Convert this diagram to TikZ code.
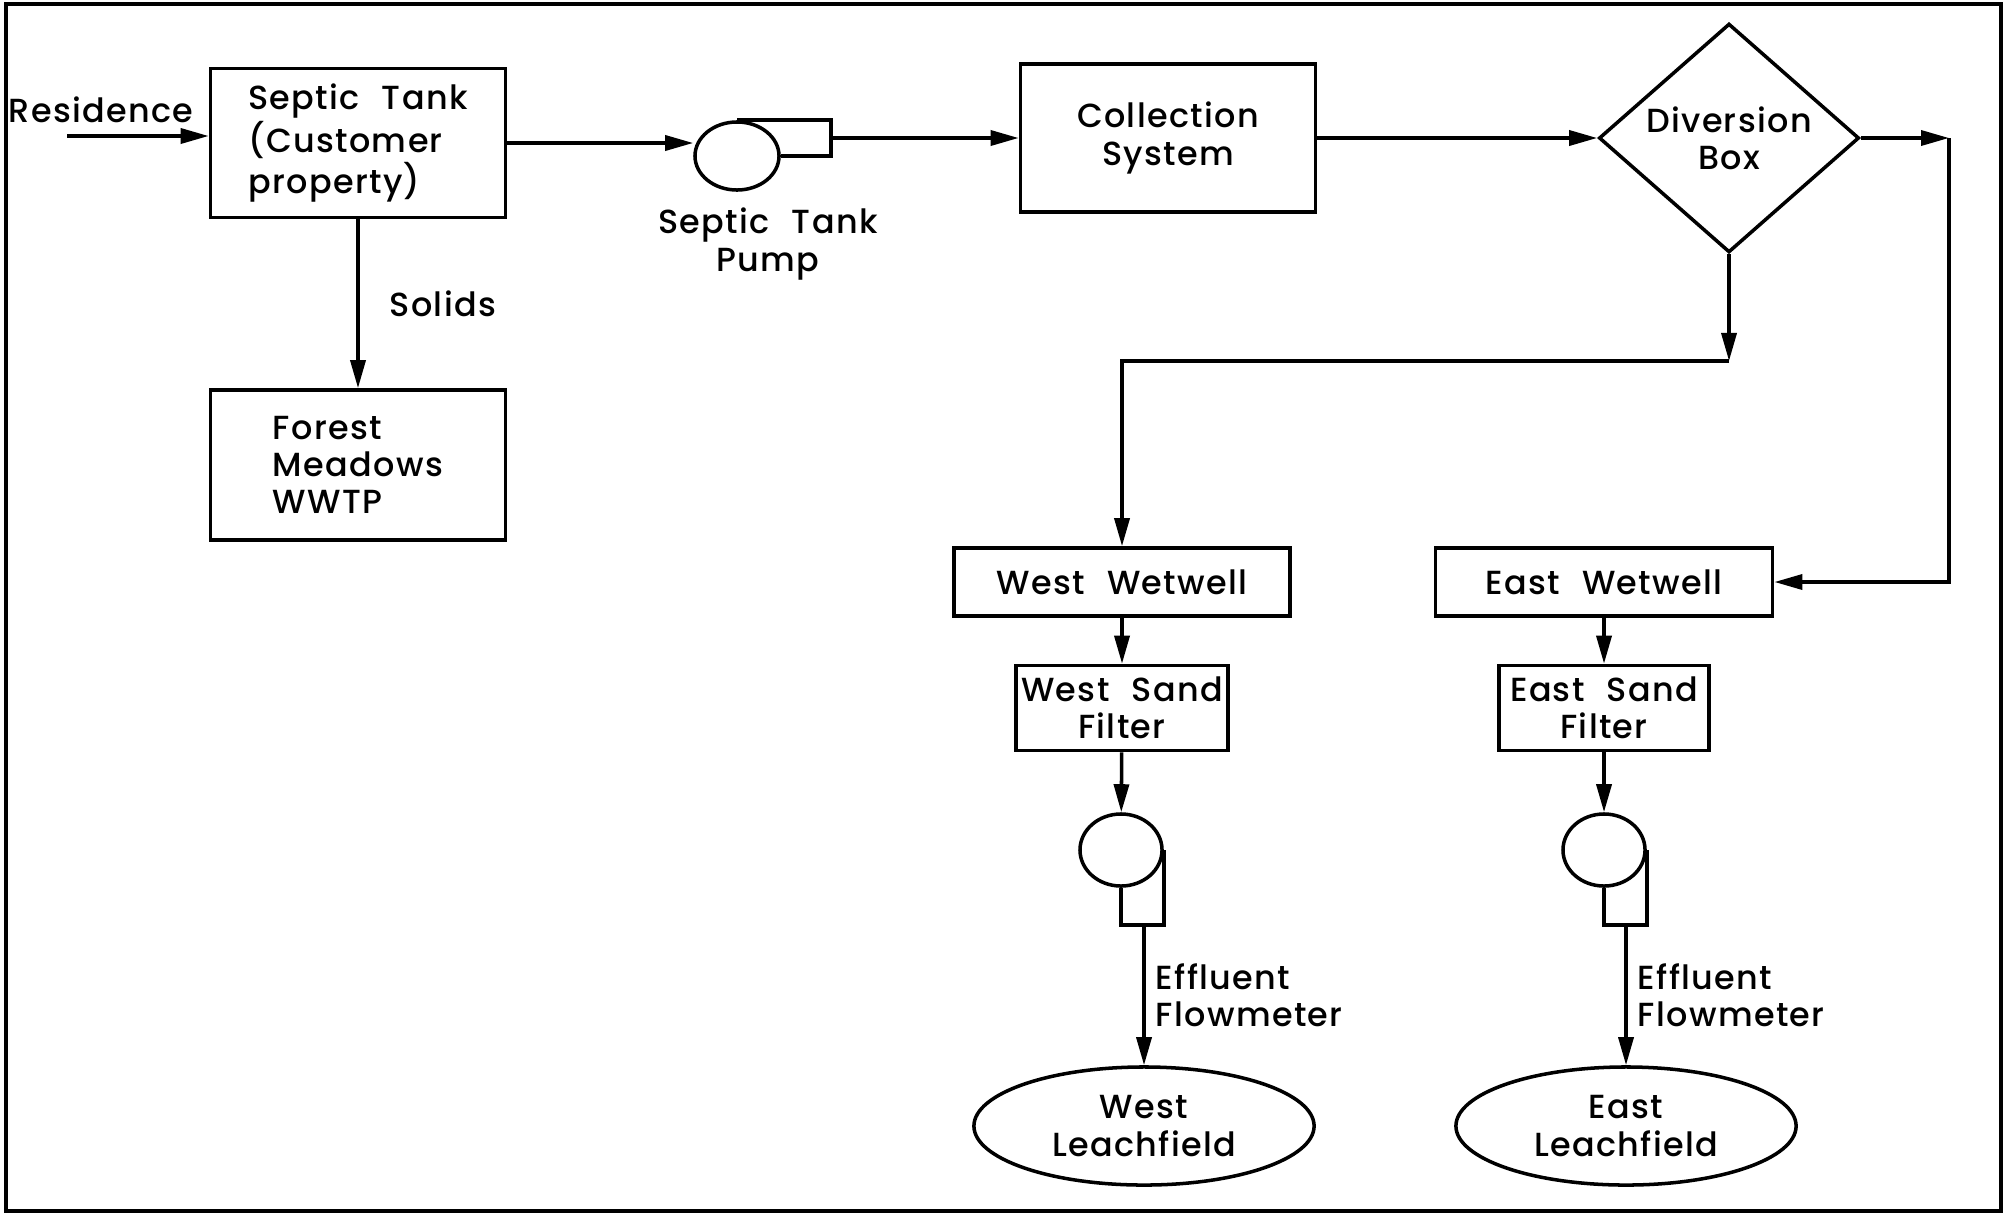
\documentclass[tikz,border=0pt]{standalone}
\usepackage{fontspec}
\setmainfont{Poppins}[UprightFont={* Medium},LetterSpace=4,WordSpace=2.2]
\usetikzlibrary{arrows.meta,shapes.geometric,positioning}

\tikzset{
  flow/.style={-{Triangle[length=0.28cm,width=0.15cm]}},
  unitbox/.style={draw, rectangle, inner sep=0pt, align=center},
  pumpbody/.style={draw, ellipse, inner sep=0pt},
  lbl/.style={inner sep=0pt, align=center}
}

\begin{document}
\begin{tikzpicture}[x=0.01cm, y=-0.01cm, line width=1pt,
    font=\fontsize{9.5}{10.6}\selectfont]
  \useasboundingbox (0,0) rectangle (2007,1215);
  \draw (6,4) rectangle (2001,1211);

  % front end
  \node[lbl] (res) at (101,110) {Residence};
  \coordinate (resin) at (67,136);
  \node[unitbox, align=left, minimum width=2.95cm, minimum height=1.49cm]
    (septic) at (358,143) {Septic Tank\\(Customer\\property)};
  \node[unitbox, align=left, minimum width=2.95cm, minimum height=1.5cm]
    (forest) at (358,465) {Forest\\Meadows\\WWTP};
  \draw[flow] (resin) -- (resin -| septic.west);
  \draw[flow] (septic) -- (forest) node[midway, right=0.3cm, lbl] {Solids};

  % septic tank pump
  \node[pumpbody, minimum width=0.84cm, minimum height=0.68cm] (pumpA) at (737,156) {};
  \draw (pumpA.north) -- ++(94,0) coordinate (tipA) |- (pumpA.east);
  \node[lbl] (pumpAlbl) at (768,244) {Septic Tank\\Pump};
  \draw[flow] (septic.east) -- (septic.east -| pumpA.west);

  \node[unitbox, minimum width=2.95cm, minimum height=1.48cm]
    (collect) at (1168,138) {Collection\\System};
  \draw[flow] (collect.west -| tipA) -- (collect.west);

  \node[draw, diamond, inner sep=0pt, minimum width=2.6cm, minimum height=2.15cm,
    align=center] (divert) at (1729,138) {Diversion\\Box};
  \draw[flow] (collect.east |- divert.west) -- (divert.west);

  % split to the wetwells
  \coordinate (ecorner) at (1949,138);
  \coordinate (wcorner) at (1729,361);
  \node[unitbox, minimum width=3.36cm, minimum height=0.68cm] (westW) at (1122,582) {West Wetwell};
  \node[unitbox, minimum width=3.37cm, minimum height=0.68cm] (eastW) at (1604,582) {East Wetwell};
  \draw[flow] (divert.east) -- (ecorner);
  \draw[flow] (ecorner) |- (eastW.east);
  \draw[flow] (divert.south) -- (wcorner);
  \draw[flow] (wcorner) -| (westW.north);

  % west train
  \node[unitbox, minimum width=2.12cm, minimum height=0.85cm] (westF) at (1122,708) {West Sand\\Filter};
  \node[pumpbody, minimum width=0.82cm, minimum height=0.72cm] (westP) at (1121,850) {};
  \draw (westP.east) -- ++(0,75) coordinate (wbot) -| (westP.south);
  \node[draw, ellipse, inner sep=0pt, minimum width=3.4cm, minimum height=1.18cm,
    align=center] (westL) at (1144,1126) {West\\Leachfield};
  \draw[flow] (westW) -- (westF);
  \draw[flow] (westF) -- (westP);
  \draw[flow] (westL.north |- wbot) -- (westL.north)
    node[midway, right=0.1cm, lbl, align=left] {Effluent\\Flowmeter};

  % east train
  \node[unitbox, minimum width=2.1cm, minimum height=0.85cm] (eastF) at (1604,708) {East Sand\\Filter};
  \node[pumpbody, minimum width=0.82cm, minimum height=0.72cm] (eastP) at (1604,850) {};
  \draw (eastP.east) -- ++(0,75) coordinate (ebot) -| (eastP.south);
  \node[draw, ellipse, inner sep=0pt, minimum width=3.4cm, minimum height=1.18cm,
    align=center] (eastL) at (1626,1126) {East\\Leachfield};
  \draw[flow] (eastW) -- (eastF);
  \draw[flow] (eastF) -- (eastP);
  \draw[flow] (eastL.north |- ebot) -- (eastL.north)
    node[midway, right=0.1cm, lbl, align=left] {Effluent\\Flowmeter};
\end{tikzpicture}
\end{document}
